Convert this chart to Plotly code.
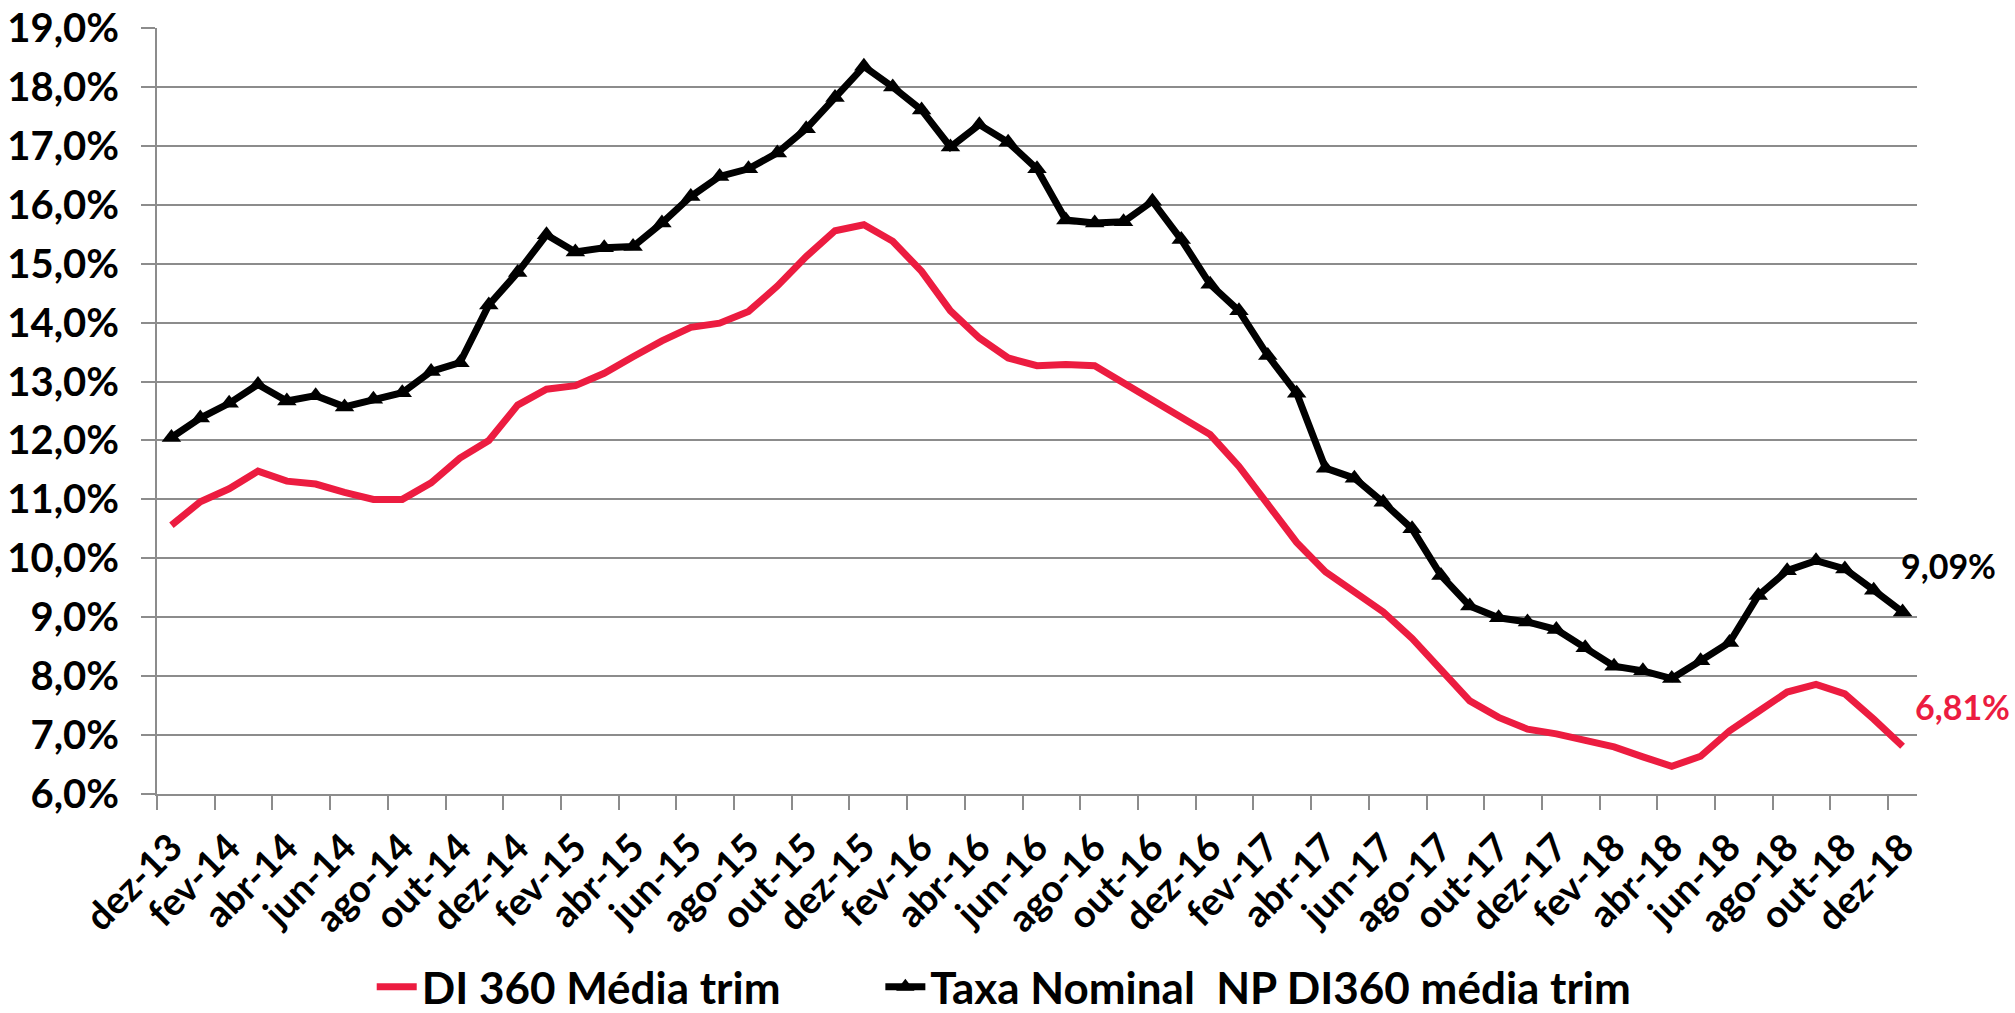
import plotly.graph_objects as go

months = ["dez-13", "jan-14", "fev-14", "mar-14", "abr-14", "mai-14", "jun-14", "jul-14", "ago-14", "set-14",
          "out-14", "nov-14", "dez-14", "jan-15", "fev-15", "mar-15", "abr-15", "mai-15", "jun-15", "jul-15",
          "ago-15", "set-15", "out-15", "nov-15", "dez-15", "jan-16", "fev-16", "mar-16", "abr-16", "mai-16",
          "jun-16", "jul-16", "ago-16", "set-16", "out-16", "nov-16", "dez-16", "jan-17", "fev-17", "mar-17",
          "abr-17", "mai-17", "jun-17", "jul-17", "ago-17", "set-17", "out-17", "nov-17", "dez-17", "jan-18",
          "fev-18", "mar-18", "abr-18", "mai-18", "jun-18", "jul-18", "ago-18", "set-18", "out-18", "nov-18",
          "dez-18"]

di360_media_trim = [10.56, 10.96, 11.18, 11.48, 11.31, 11.26, 11.12, 11.00, 11.00, 11.28,
                    11.70, 12.00, 12.60, 12.87, 12.93, 13.14, 13.42, 13.69, 13.92, 13.99,
                    14.19, 14.62, 15.12, 15.56, 15.66, 15.38, 14.87, 14.20, 13.74, 13.40,
                    13.27, 13.29, 13.27, 12.97, 12.70, 12.40, 12.10, 11.56, 10.90, 10.27,
                    9.77, 9.42, 9.09, 8.64, 8.12, 7.58, 7.30, 7.10, 7.02, 6.90,
                    6.80, 6.63, 6.47, 6.64, 7.07, 7.40, 7.73, 7.86, 7.70, 7.27,
                    6.81]

taxa_nominal_np = [12.05, 12.38, 12.63, 12.95, 12.67, 12.76, 12.57, 12.70, 12.81, 13.17,
                   13.32, 14.30, 14.85, 15.49, 15.20, 15.27, 15.29, 15.69, 16.14, 16.48,
                   16.61, 16.88, 17.29, 17.82, 18.35, 18.00, 17.61, 16.98, 17.36, 17.06,
                   16.61, 15.74, 15.69, 15.71, 16.06, 15.41, 14.65, 14.20, 13.44, 12.80,
                   11.53, 11.36, 10.95, 10.50, 9.71, 9.19, 8.99, 8.92, 8.79, 8.48,
                   8.17, 8.09, 7.96, 8.26, 8.57, 9.37, 9.79, 9.96, 9.82, 9.46,
                   9.09]

series_names = ["DI 360 Média trim", "Taxa Nominal  NP DI360 média trim"]
y_ticks = [6, 7, 8, 9, 10, 11, 12, 13, 14, 15, 16, 17, 18, 19]
y_tick_text = [f"{v:.1f}".replace(".", ",") + "%" for v in y_ticks]

RED = "#EC1C40"
BLACK = "#000000"
GRID = "#8C8C8C"
FONT = "Lato"

x_idx = list(range(len(months)))
tick_pos = x_idx[::2]
tick_text = months[::2]
boundaries = [i - 0.5 for i in range(0, len(months) + 1, 2)]

fig = go.Figure()
fig.add_trace(go.Scatter(
    x=x_idx, y=di360_media_trim, mode="lines", name=series_names[0],
    line=dict(color=RED, width=7), legend="legend",
))
fig.add_trace(go.Scatter(
    x=x_idx, y=taxa_nominal_np, mode="lines+markers", name=series_names[1],
    line=dict(color=BLACK, width=7),
    marker=dict(symbol="triangle-up", size=17, color=BLACK),
    legend="legend2",
))

def fmt(v):
    return f"{v:.2f}".replace(".", ",") + "%"

fig.add_annotation(x=x_idx[-1], y=taxa_nominal_np[-1], xref="x", yref="y",
                   text=fmt(taxa_nominal_np[-1]), showarrow=False,
                   xanchor="left", yanchor="middle", xshift=-4, yshift=46,
                   font=dict(family=FONT, size=34, color=BLACK, weight="bold"))
fig.add_annotation(x=x_idx[-1], y=di360_media_trim[-1], xref="x", yref="y",
                   text=fmt(di360_media_trim[-1]), showarrow=False,
                   xanchor="left", yanchor="middle", xshift=10, yshift=40,
                   font=dict(family=FONT, size=34, color=RED, weight="bold"))

legend_font = dict(family=FONT, size=44, color=BLACK, weight="bold")
fig.update_layout(
    width=2015, height=1013,
    margin=dict(l=157, r=98, t=28, b=219, autoexpand=False),
    paper_bgcolor="white", plot_bgcolor="white",
    showlegend=True,
    legend=dict(orientation="h", x=0.122, xanchor="left", y=-0.252, yanchor="middle",
                font=legend_font, itemwidth=40, bgcolor="rgba(0,0,0,0)"),
    legend2=dict(orientation="h", x=0.411, xanchor="left", y=-0.252, yanchor="middle",
                 font=legend_font, itemwidth=40, bgcolor="rgba(0,0,0,0)"),
    font=dict(family=FONT, color=BLACK),
)

fig.update_xaxes(
    range=[-0.5, len(months) - 0.5], automargin=False,
    tickmode="array", tickvals=tick_pos, ticktext=tick_text,
    tickangle=-45, ticks="", ticklabelstandoff=14, ticklabeloverflow="allow",
    tickfont=dict(family=FONT, size=38, color=BLACK, weight="bold"),
    showgrid=False, zeroline=False,
    showline=True, linecolor=GRID, linewidth=2,
    minor=dict(tickmode="array", tickvals=boundaries, ticks="outside",
               ticklen=14, tickwidth=2, tickcolor=GRID, showgrid=False),
)
fig.update_yaxes(
    range=[6, 19], automargin=False,
    tickmode="array", tickvals=y_ticks, ticktext=y_tick_text,
    ticks="outside", ticklen=14, tickwidth=2, tickcolor=GRID, ticklabelstandoff=14,
    ticklabeloverflow="allow",
    tickfont=dict(family=FONT, size=40, color=BLACK, weight="bold"),
    showgrid=True, gridcolor=GRID, gridwidth=2,
    showline=True, linecolor=GRID, linewidth=2, zeroline=False,
)

fig.write_html("out.html", config={"displayModeBar": False},
               post_script="document.body.style.margin='0';document.body.style.overflow='hidden';")
